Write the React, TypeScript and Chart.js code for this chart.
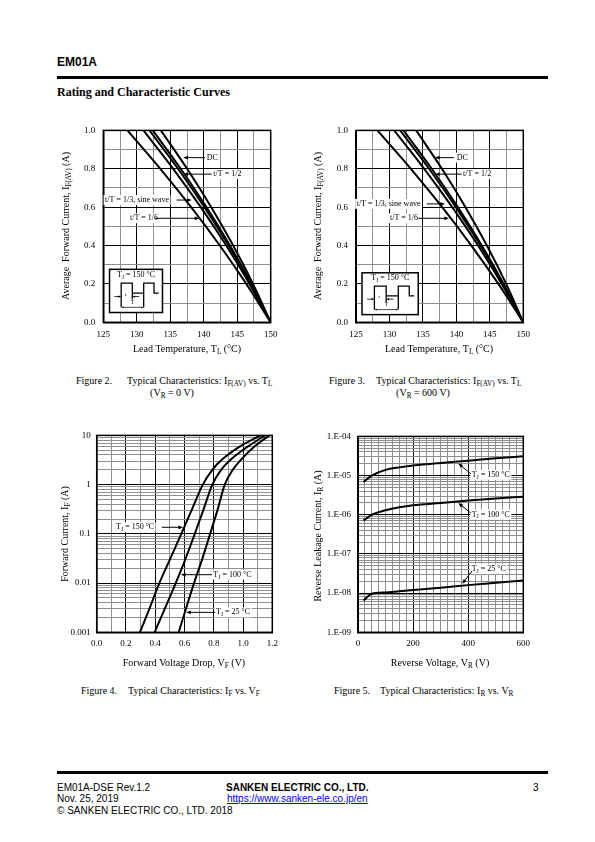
import React, { useEffect, useRef } from "react";
import { Chart, registerables } from "chart.js";

Chart.register(...registerables);

const SERIF = "'Liberation Serif', 'Times New Roman', Times, serif";
const SANS = "'Liberation Sans', Arial, Helvetica, sans-serif";
const GRID_MINOR = "#8f8f8f";

// ---------------- Figure 2: I_F(AV) vs T_L (VR = 0 V) ----------------
const fig2Current = [1.0, 0.8, 0.6, 0.4, 0.2, 0.0];
const fig2LeadTempDC = [133.6, 137.52, 141.12, 144.4, 147.36, 150];
const fig2LeadTempHalf = [132.4, 136.56, 140.4, 143.92, 147.12, 150];
const fig2LeadTempSine = [131.9, 136.16, 140.1, 143.72, 147.02, 150];
const fig2LeadTempThird = [131.0, 135.44, 139.56, 143.36, 146.84, 150];
const fig2LeadTempSixth = [128.6, 133.52, 138.12, 142.4, 146.36, 150];

// ---------------- Figure 3: I_F(AV) vs T_L (VR = 600 V) ----------------
const fig3Current = [1.0, 0.8, 0.6, 0.4, 0.2, 0.0];
const fig3LeadTempDC = [134.0, 137.84, 141.36, 144.56, 147.44, 150];
const fig3LeadTempHalf = [132.1, 136.32, 140.22, 143.8, 147.06, 150];
const fig3LeadTempSine = [131.6, 135.92, 139.92, 143.6, 146.96, 150];
const fig3LeadTempThird = [130.7, 135.2, 139.38, 143.24, 146.78, 150];
const fig3LeadTempSixth = [128.2, 133.2, 137.88, 142.24, 146.28, 150];

const derateXTickValues = [125, 130, 135, 140, 145, 150];
const derateXTickLabels = ["125", "130", "135", "140", "145", "150"];
const derateYTickValues = [0, 0.2, 0.4, 0.6, 0.8, 1.0];
const derateYTickLabels = ["0.0", "0.2", "0.4", "0.6", "0.8", "1.0"];

// ---------------- Figure 4: I_F vs V_F ----------------
const fig4Current = [0.001, 0.003, 0.01, 0.03, 0.1, 0.3, 1, 2, 3.3, 6, 10];
const fig4VoltTj150 = [0.295, 0.36, 0.428, 0.5, 0.578, 0.648, 0.725, 0.79, 0.86, 0.98, 1.12];
const fig4VoltTj100 = [0.396, 0.465, 0.54, 0.605, 0.67, 0.728, 0.79, 0.85, 0.92, 1.035, 1.15];
const fig4VoltTj25 = [0.56, 0.61, 0.665, 0.72, 0.775, 0.825, 0.875, 0.93, 0.99, 1.08, 1.18];
const fig4XTickValues = [0, 0.2, 0.4, 0.6, 0.8, 1.0, 1.2];
const fig4XTickLabels = ["0.0", "0.2", "0.4", "0.6", "0.8", "1.0", "1.2"];
const fig4YDecades = [0.001, 0.01, 0.1, 1, 10];
const fig4YTickLabels = ["0.001", "0.01", "0.1", "1", "10"];

// ---------------- Figure 5: I_R vs V_R ----------------
const fig5Voltage = [20, 50, 100, 150, 200, 300, 400, 500, 600];
const fig5LeakTj150 = [6.9e-6, 1.0e-5, 1.4e-5, 1.62e-5, 1.8e-5, 2.1e-5, 2.4e-5, 2.75e-5, 3.1e-5];
const fig5LeakTj100 = [7.1e-7, 1.0e-6, 1.3e-6, 1.55e-6, 1.75e-6, 2.0e-6, 2.3e-6, 2.6e-6, 2.9e-6];
const fig5LeakTj25 = [6.5e-9, 9.6e-9, 1.04e-8, 1.12e-8, 1.2e-8, 1.38e-8, 1.6e-8, 1.83e-8, 2.1e-8];
const fig5XTickValues = [0, 200, 400, 600];
const fig5XTickLabels = ["0", "200", "400", "600"];
const fig5YDecades = [1e-9, 1e-8, 1e-7, 1e-6, 1e-5, 1e-4];
const fig5YTickLabels = ["1.E-09", "1.E-08", "1.E-07", "1.E-06", "1.E-05", "1.E-04"];

const logMinorSteps = [2, 3, 4, 5, 6, 7, 8, 9];

// ---------------- helpers ----------------
type Pt = [number, number];
type Seg = { t: string; k?: number }; // k: 1 = subscript, 2 = superscript
type Note = { segs: Seg[]; at: Pt; from: Pt; to: Pt };

const tj = (v: string): Seg[] => [{ t: "T" }, { t: "J", k: 1 }, { t: ` = ${v} °C` }];

function fontStr(size: number, family: string, weight = "normal") {
  return `${weight} ${size}px ${family}`;
}

function richWidth(ctx: CanvasRenderingContext2D, segs: Seg[], size: number, family: string, weight: string) {
  let w = 0;
  for (const s of segs) {
    ctx.font = fontStr(s.k ? size * 0.72 : size, family, weight);
    w += ctx.measureText(s.t).width;
  }
  return w;
}

function drawRich(
  ctx: CanvasRenderingContext2D,
  segs: Seg[],
  x: number,
  y: number,
  size: number,
  align: "left" | "center" | "right" = "left",
  bg = false,
  family = SERIF,
  weight = "normal"
) {
  const w = richWidth(ctx, segs, size, family, weight);
  let cx = align === "left" ? x : align === "center" ? x - w / 2 : x - w;
  if (bg) {
    ctx.fillStyle = "#fff";
    ctx.fillRect(cx - 1.5, y - size * 0.62, w + 3, size * 1.24);
  }
  ctx.fillStyle = "#000";
  ctx.textAlign = "left";
  ctx.textBaseline = "middle";
  for (const s of segs) {
    const sz = s.k ? size * 0.72 : size;
    ctx.font = fontStr(sz, family, weight);
    const dy = s.k === 1 ? size * 0.3 : s.k === 2 ? -size * 0.32 : 0;
    ctx.fillText(s.t, cx, y + dy);
    cx += ctx.measureText(s.t).width;
  }
}

function drawArrow(ctx: CanvasRenderingContext2D, x1: number, y1: number, x2: number, y2: number, head = 5, lw = 1) {
  const a = Math.atan2(y2 - y1, x2 - x1);
  ctx.strokeStyle = "#000";
  ctx.fillStyle = "#000";
  ctx.lineWidth = lw;
  ctx.beginPath();
  ctx.moveTo(x1, y1);
  ctx.lineTo(x2 - Math.cos(a) * head * 0.6, y2 - Math.sin(a) * head * 0.6);
  ctx.stroke();
  ctx.beginPath();
  ctx.moveTo(x2, y2);
  ctx.lineTo(x2 - head * Math.cos(a - 0.38), y2 - head * Math.sin(a - 0.38));
  ctx.lineTo(x2 - head * Math.cos(a + 0.38), y2 - head * Math.sin(a + 0.38));
  ctx.closePath();
  ctx.fill();
}

function drawInset(ctx: CanvasRenderingContext2D, x0: number, y0: number, x1: number, y1: number) {
  const w = x1 - x0;
  const h = y1 - y0;
  const X = (f: number) => x0 + w * f;
  const Y = (f: number) => y0 + h * f;
  ctx.fillStyle = "#fff";
  ctx.fillRect(x0, y0, w, h);
  ctx.strokeStyle = "#000";
  ctx.lineWidth = 1.5;
  ctx.strokeRect(x0, y0, w, h);
  drawRich(ctx, tj("150"), X(0.5), Y(0.13), 8, "center");
  const hi = Y(0.32);
  const lo = Y(0.55);
  const tY = Y(0.63);
  const TY = Y(0.88);
  const p1L = X(0.22), p1R = X(0.43), p2L = X(0.645), p2R = X(0.84), end = X(0.93);
  ctx.strokeStyle = "#000";
  ctx.lineWidth = 1.3;
  ctx.beginPath();
  ctx.moveTo(p1L, TY);
  ctx.lineTo(p1L, hi);
  ctx.lineTo(p1R, hi);
  ctx.lineTo(p1R, tY + 3);
  ctx.moveTo(p1R, lo);
  ctx.lineTo(p2L, lo);
  ctx.moveTo(p2L, TY);
  ctx.lineTo(p2L, hi);
  ctx.lineTo(p2R, hi);
  ctx.lineTo(p2R, lo);
  ctx.lineTo(end, lo);
  ctx.stroke();
  drawArrow(ctx, X(0.09), tY, p1L, tY, 3, 0.8);
  drawArrow(ctx, X(0.56), tY, p1R, tY, 3, 0.8);
  drawArrow(ctx, (p1L + p2L) / 2, TY, p1L, TY, 2.5, 0.7);
  drawArrow(ctx, (p1L + p2L) / 2, TY, p2L, TY, 2.5, 0.7);
  drawRich(ctx, [{ t: "t" }], (p1L + p1R) / 2 - 1, tY - 2, 5, "center");
  drawRich(ctx, [{ t: "T" }], (p1L + p2L) / 2, TY - 5, 5.5, "center");
}

const isMultiple = (v: number, m: number) => {
  const q = v / m;
  return Math.abs(q - Math.round(q)) < 1e-6;
};
const isDecade = (v: number | undefined) => {
  if (v === undefined || v <= 0) return false;
  const l = Math.log10(v);
  return Math.abs(l - Math.round(l)) < 1e-6;
};
const linLabel = (v: number, vals: number[], labels: string[]) => {
  const i = vals.findIndex((x) => Math.abs(x - v) < 1e-6);
  return i >= 0 ? labels[i] : "";
};
const logLabel = (v: number, vals: number[], labels: string[]) => {
  const i = vals.findIndex((x) => Math.abs(x - v) <= 1e-6 * x);
  return i >= 0 ? labels[i] : "";
};
const logGrid = (decades: number[]) => {
  const out: number[] = [];
  decades.forEach((d, i) => {
    out.push(d);
    if (i < decades.length - 1) logMinorSteps.forEach((m) => out.push(d * m));
  });
  return out;
};

const tickFont = { family: SERIF, size: 9 };

function linearAxis(min: number, max: number, step: number, major: number, vals: number[], labels: string[], pad: number) {
  return {
    type: "linear",
    min,
    max,
    grid: {
      color: (c: any) => (c.tick && isMultiple(c.tick.value, major) ? "#000" : GRID_MINOR),
      lineWidth: 1,
      drawTicks: false,
    },
    border: { display: true, color: "#000", width: 1.5 },
    ticks: {
      stepSize: step,
      autoSkip: false,
      maxRotation: 0,
      minRotation: 0,
      padding: pad,
      color: "#000",
      font: tickFont,
      callback: (v: any) => linLabel(Number(v), vals, labels),
    },
  };
}

function logAxis(decades: number[], labels: string[], pad: number) {
  return {
    type: "logarithmic",
    min: decades[0],
    max: decades[decades.length - 1],
    afterBuildTicks: (s: any) => {
      s.ticks = logGrid(decades).map((v) => ({ value: v }));
    },
    grid: {
      color: (c: any) => (c.tick && isDecade(c.tick.value) ? "#000" : GRID_MINOR),
      lineWidth: 1,
      drawTicks: false,
    },
    border: { display: true, color: "#000", width: 1.5 },
    ticks: {
      autoSkip: false,
      padding: pad,
      color: "#000",
      font: tickFont,
      callback: (v: any) => logLabel(Number(v), decades, labels),
    },
  };
}

const line = (xs: number[], ys: number[]) => ({
  data: xs.map((x, i) => ({ x, y: ys[i] })),
  borderColor: "#000",
  borderWidth: 2,
  pointRadius: 0,
  fill: false,
  cubicInterpolationMode: "monotone",
});

type Decorate = (c: any, ctx: CanvasRenderingContext2D, toPx: (p: Pt) => Pt, page: (p: Pt) => Pt) => void;

type PanelDef = {
  box: { left: number; top: number; width: number; height: number };
  area: { left: number; top: number; right: number; bottom: number };
  datasets: any[];
  xScale: any;
  yScale: any;
  decorate: Decorate;
};

function titles(ySegs: Seg[], yPos: Pt, xSegs: Seg[], xPos: Pt): Decorate {
  return (_c, ctx, _toPx, page) => {
    const yp = page(yPos);
    ctx.save();
    ctx.translate(yp[0], yp[1]);
    ctx.rotate(-Math.PI / 2);
    drawRich(ctx, ySegs, 0, 0, 10, "center");
    ctx.restore();
    const xp = page(xPos);
    drawRich(ctx, xSegs, xp[0], xp[1], 10, "center");
  };
}

function notesDecor(notes: Note[]): Decorate {
  return (_c, ctx, toPx) => {
    notes.forEach((n) => {
      const p = toPx(n.at);
      drawRich(ctx, n.segs, p[0], p[1], 8, "left", true);
    });
    notes.forEach((n) => {
      const a = toPx(n.from);
      const b = toPx(n.to);
      drawArrow(ctx, a[0], a[1], b[0], b[1]);
    });
  };
}

const deratingYTitle: Seg[] = [{ t: "Average  Forward Current, I" }, { t: "F(AV)", k: 1 }, { t: " (A)" }];
const deratingXTitle: Seg[] = [{ t: "Lead Temperature, T" }, { t: "L", k: 1 }, { t: " (°C)" }];

const fig2Notes: Note[] = [
  { segs: [{ t: "DC" }], at: [140.44, 0.858], from: [140.2, 0.858], to: [136.95, 0.858] },
  { segs: [{ t: "t/T = 1/2" }], at: [141.43, 0.772], from: [141.2, 0.772], to: [136.95, 0.772] },
  { segs: [{ t: "t/T = 1/3, sine wave" }], at: [125.27, 0.637], from: [135.96, 0.637], to: [138.2, 0.637] },
  { segs: [{ t: "t/T = 1/6" }], at: [128.99, 0.542], from: [132.7, 0.542], to: [139.34, 0.542] },
];
const fig3Notes: Note[] = [
  { segs: [{ t: "DC" }], at: [140.04, 0.858], from: [139.64, 0.858], to: [136.8, 0.858] },
  { segs: [{ t: "t/T = 1/2" }], at: [141.0, 0.772], from: [140.8, 0.772], to: [136.8, 0.772] },
  { segs: [{ t: "t/T = 1/3, sine wave" }], at: [125.1, 0.617], from: [135.56, 0.617], to: [138.3, 0.617] },
  { segs: [{ t: "t/T = 1/6" }], at: [130.08, 0.542], from: [134.3, 0.542], to: [138.9, 0.542] },
];
const fig4Notes: Note[] = [
  { segs: tj("150"), at: [0.132, 0.136], from: [0.445, 0.136], to: [0.59, 0.136] },
  { segs: tj("100"), at: [0.797, 0.0148], from: [0.788, 0.0148], to: [0.575, 0.0148] },
  { segs: tj("25"), at: [0.815, 0.00254], from: [0.81, 0.00254], to: [0.612, 0.00254] },
];
const fig5Notes: Note[] = [
  { segs: tj("150"), at: [412.7, 1.04e-5], from: [410, 1.1e-5], to: [364, 2.04e-5] },
  { segs: tj("100"), at: [412.7, 1.01e-6], from: [410, 1.1e-6], to: [364, 1.99e-6] },
  { segs: tj("25"), at: [412.7, 4.1e-8], from: [414, 3.7e-8], to: [378.6, 1.73e-8] },
];

const combine = (...fs: Decorate[]): Decorate => (c, ctx, toPx, page) => fs.forEach((f) => f(c, ctx, toPx, page));
const insetDecor = (a: Pt, b: Pt): Decorate => (_c, ctx, toPx) => {
  const p = toPx(a);
  const q = toPx(b);
  drawInset(ctx, p[0], p[1], q[0], q[1]);
};

const panels: PanelDef[] = [
  {
    box: { left: 52, top: 117, width: 236, height: 243 },
    area: { left: 103.3, top: 129.3, right: 270.7, bottom: 322.3 },
    datasets: [
      line(fig2LeadTempDC, fig2Current),
      line(fig2LeadTempHalf, fig2Current),
      line(fig2LeadTempSine, fig2Current),
      line(fig2LeadTempThird, fig2Current),
      line(fig2LeadTempSixth, fig2Current),
    ],
    xScale: linearAxis(125, 150, 2.5, 5, derateXTickValues, derateXTickLabels, 7),
    yScale: linearAxis(0, 1, 0.1, 0.2, derateYTickValues, derateYTickLabels, 8),
    decorate: combine(
      notesDecor(fig2Notes),
      insetDecor([125.93, 0.276], [133.84, 0.051]),
      titles(deratingYTitle, [66, 226], deratingXTitle, [187, 349.5])
    ),
  },
  {
    box: { left: 302, top: 117, width: 238, height: 243 },
    area: { left: 356, top: 129.3, right: 523.3, bottom: 322.3 },
    datasets: [
      line(fig3LeadTempDC, fig3Current),
      line(fig3LeadTempHalf, fig3Current),
      line(fig3LeadTempSine, fig3Current),
      line(fig3LeadTempThird, fig3Current),
      line(fig3LeadTempSixth, fig3Current),
    ],
    xScale: linearAxis(125, 150, 2.5, 5, derateXTickValues, derateXTickLabels, 7),
    yScale: linearAxis(0, 1, 0.1, 0.2, derateYTickValues, derateYTickLabels, 8),
    decorate: combine(
      notesDecor(fig3Notes),
      insetDecor([125.9, 0.258], [134.3, 0.04]),
      titles(deratingYTitle, [318, 226], deratingXTitle, [439, 349.5])
    ),
  },
  {
    box: { left: 50, top: 424, width: 240, height: 250 },
    area: { left: 96.7, top: 434.3, right: 272.3, bottom: 632.3 },
    datasets: [line(fig4VoltTj150, fig4Current), line(fig4VoltTj100, fig4Current), line(fig4VoltTj25, fig4Current)],
    xScale: linearAxis(0, 1.2, 0.1, 0.2, fig4XTickValues, fig4XTickLabels, 6),
    yScale: logAxis(fig4YDecades, fig4YTickLabels, 6),
    decorate: combine(
      notesDecor(fig4Notes),
      titles(
        [{ t: "Forward Current, I" }, { t: "F", k: 1 }, { t: " (A)" }],
        [65, 534],
        [{ t: "Forward Voltage Drop, V" }, { t: "F", k: 1 }, { t: " (V)" }],
        [184, 663]
      )
    ),
  },
  {
    box: { left: 302, top: 424, width: 238, height: 250 },
    area: { left: 358, top: 434.3, right: 523.3, bottom: 632.3 },
    datasets: [line(fig5Voltage, fig5LeakTj150), line(fig5Voltage, fig5LeakTj100), line(fig5Voltage, fig5LeakTj25)],
    xScale: linearAxis(0, 600, 25, 200, fig5XTickValues, fig5XTickLabels, 6),
    yScale: logAxis(fig5YDecades, fig5YTickLabels, 7),
    decorate: combine(
      notesDecor(fig5Notes),
      titles(
        [{ t: "Reverse Leakage Current, I" }, { t: "R", k: 1 }, { t: " (A)" }],
        [318, 536],
        [{ t: "Reverse Voltage, V" }, { t: "R", k: 1 }, { t: " (V)" }],
        [440, 663]
      )
    ),
  },
];

function ChartPanel({ def }: { def: PanelDef }) {
  const ref = useRef<HTMLCanvasElement | null>(null);
  useEffect(() => {
    const { box, area } = def;
    const padTop = area.top - box.top;
    const padRight = box.left + box.width - area.right;
    const yW = area.left - box.left;
    const xH = box.top + box.height - area.bottom;
    const chart = new Chart(ref.current as HTMLCanvasElement, {
      type: "line",
      data: { datasets: def.datasets },
      options: {
        responsive: false,
        animation: false,
        devicePixelRatio: 1,
        layout: { padding: { top: padTop, right: padRight, left: 0, bottom: 0 } },
        plugins: { legend: { display: false }, tooltip: { enabled: false }, title: { display: false } },
        scales: {
          x: { ...def.xScale, afterFit: (s: any) => { s.height = xH; } },
          y: { ...def.yScale, afterFit: (s: any) => { s.width = yW; } },
        },
      } as any,
      plugins: [
        {
          id: "decor",
          afterDatasetsDraw(c: any) {
            const ctx: CanvasRenderingContext2D = c.ctx;
            const toPx = (p: Pt): Pt => [c.scales.x.getPixelForValue(p[0]), c.scales.y.getPixelForValue(p[1])];
            const page = (p: Pt): Pt => [p[0] - box.left, p[1] - box.top];
            ctx.save();
            const a = c.chartArea;
            ctx.strokeStyle = "#000";
            ctx.lineWidth = 1.5;
            ctx.strokeRect(a.left, a.top, a.right - a.left, a.bottom - a.top);
            def.decorate(c, ctx, toPx, page);
            ctx.restore();
          },
        },
      ],
    } as any);
    return () => chart.destroy();
  }, [def]);
  return (
    <canvas
      ref={ref}
      width={def.box.width}
      height={def.box.height}
      style={{ position: "absolute", left: def.box.left, top: def.box.top, width: def.box.width, height: def.box.height }}
    />
  );
}

const Sub = ({ children }: { children: React.ReactNode }) => (
  <span style={{ fontSize: "0.72em", position: "relative", top: "0.28em" }}>{children}</span>
);

const abs = (left: number, top: number, font: string, extra: React.CSSProperties = {}): React.CSSProperties => ({
  position: "absolute",
  left,
  top,
  font,
  whiteSpace: "nowrap",
  color: "#000",
  ...extra,
});

const cap = `10px/12px ${SERIF}`;
const foot = `10px/11.5px ${SANS}`;

export default function App() {
  return (
    <div style={{ position: "absolute", left: 0, top: 0, width: 595, height: 842, background: "#fff", overflow: "hidden" }}>
      <div style={abs(57, 55, `bold 12px/14px ${SANS}`)}>EM01A</div>
      <div style={{ position: "absolute", left: 57, top: 75.5, width: 491, height: 3, background: "#000" }} />
      <div style={abs(57, 85, `bold 12px/14px ${SERIF}`)}>Rating and Characteristic Curves</div>

      {panels.map((p, i) => (
        <ChartPanel key={i} def={p} />
      ))}

      <div style={abs(76, 375, cap)}>Figure 2.</div>
      <div style={abs(127, 375, cap)}>
        Typical Characteristics: I<Sub>F(AV)</Sub> vs. T<Sub>L</Sub>
      </div>
      <div style={abs(122, 387, cap, { width: 100, textAlign: "center" })}>
        (V<Sub>R</Sub> = 0 V)
      </div>

      <div style={abs(329, 375, cap)}>Figure 3.</div>
      <div style={abs(376, 375, cap)}>
        Typical Characteristics: I<Sub>F(AV)</Sub> vs. T<Sub>L</Sub>
      </div>
      <div style={abs(373, 387, cap, { width: 100, textAlign: "center" })}>
        (V<Sub>R</Sub> = 600 V)
      </div>

      <div style={abs(81, 685, cap)}>Figure 4.</div>
      <div style={abs(128, 685, cap)}>
        Typical Characteristics: I<Sub>F</Sub> vs. V<Sub>F</Sub>
      </div>
      <div style={abs(334, 685, cap)}>Figure 5.</div>
      <div style={abs(380, 685, cap)}>
        Typical Characteristics: I<Sub>R</Sub> vs. V<Sub>R</Sub>
      </div>

      <div style={{ position: "absolute", left: 57, top: 770.5, width: 491, height: 3, background: "#000" }} />
      <div style={abs(57, 781.5, foot)}>EM01A-DSE Rev.1.2</div>
      <div style={abs(57, 793, foot)}>Nov. 25, 2019</div>
      <div style={abs(57, 804.5, foot)}>© SANKEN ELECTRIC CO., LTD. 2018</div>
      <div style={abs(226, 781.5, `bold ${foot}`)}>SANKEN ELECTRIC CO., LTD.</div>
      <div style={abs(227, 793, foot, { color: "#0000ff", textDecoration: "underline" })}>https://www.sanken-ele.co.jp/en</div>
      <div style={abs(533, 781.5, foot)}>3</div>
    </div>
  );
}
